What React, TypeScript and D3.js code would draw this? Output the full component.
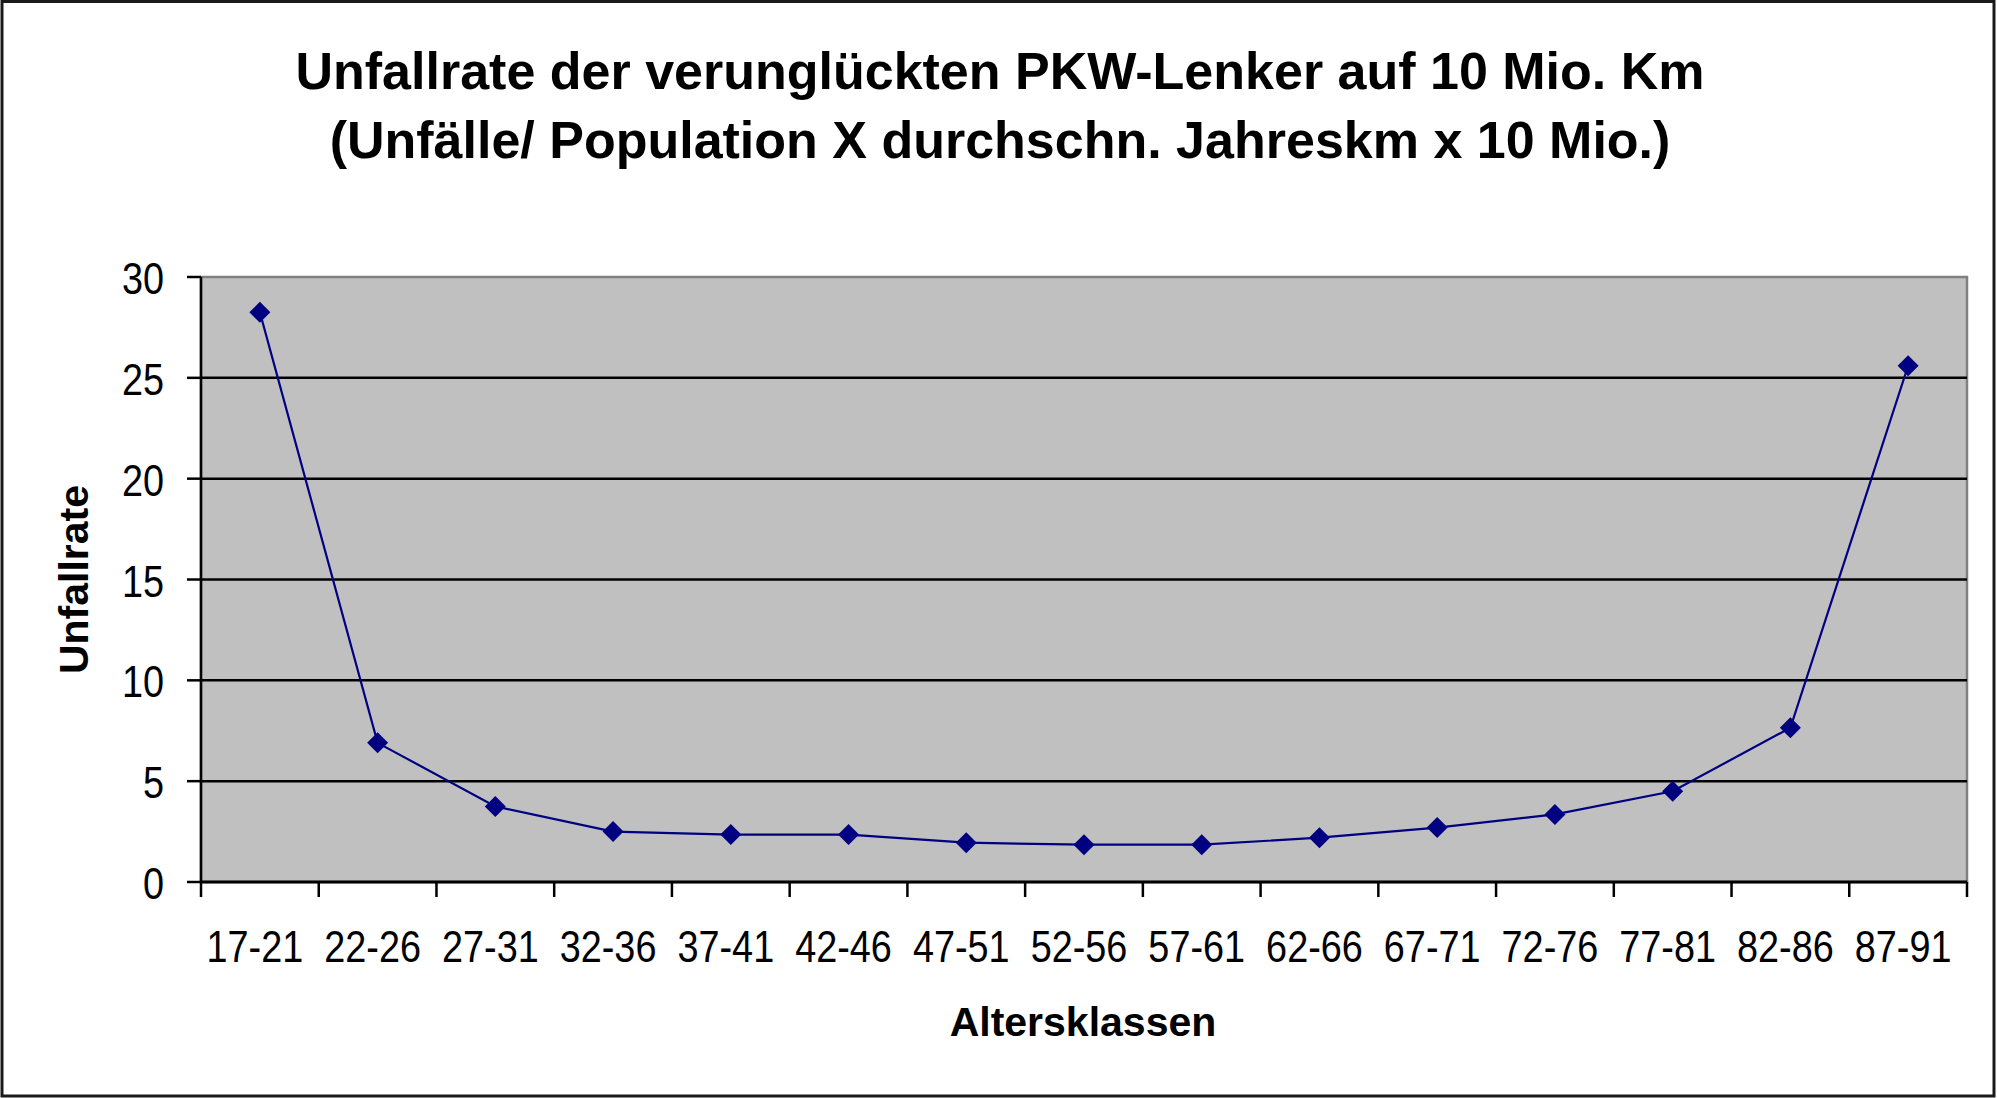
import React from "react";
import * as d3 from "d3";

const categories = ["17-21","22-26","27-31","32-36","37-41","42-46","47-51","52-56","57-61","62-66","67-71","72-76","77-81","82-86","87-91"];
const values = [28.25, 6.9, 3.75, 2.5, 2.35, 2.35, 1.95, 1.85, 1.85, 2.2, 2.7, 3.35, 4.5, 7.65, 25.6];
const yTicks = [0, 5, 10, 15, 20, 25, 30];
const titleLines = ["Unfallrate der verunglückten PKW-Lenker auf 10 Mio. Km", "(Unfälle/ Population X durchschn. Jahreskm x 10 Mio.)"];
const xTitle = "Altersklassen";
const yTitle = "Unfallrate";

const W = 1997, H = 1098;
const plot = { left: 201, right: 1967, top: 277, bottom: 882 };
const font = "'Liberation Sans', Arial, sans-serif";
const sx = 0.86;

export default function App() {
  const x = d3.scaleBand<string>().domain(categories).range([plot.left, plot.right]).padding(0);
  const y = d3.scaleLinear().domain([0, 30]).range([plot.bottom, plot.top]);
  const line = d3.line<number>()
    .x((_, i) => (x(categories[i]) as number) + x.bandwidth() / 2)
    .y((d) => y(d));
  const boundaries = categories.map((c) => x(c) as number).concat([plot.right]);
  const r = 10.5;
  return (
    <div style={{ position: "absolute", left: 0, top: 0 }}>
      <svg width={W} height={H} style={{ display: "block" }}>
        <rect x={0} y={0} width={W} height={H} fill="#ffffff" />
        <rect x={2} y={1.5} width={W - 5} height={H - 3.5} fill="none" stroke="#1a1a1a" strokeWidth={3} />
        {titleLines.map((t, i) => (
          <text key={i} x={1000} y={89 + i * 69} textAnchor="middle" fontFamily={font} fontWeight="bold" fontSize={52} fill="#000">{t}</text>
        ))}
        <rect x={plot.left} y={plot.top} width={plot.right - plot.left} height={plot.bottom - plot.top} fill="#c0c0c0" stroke="#808080" strokeWidth={2.5} />
        {yTicks.filter((t) => t > 0 && t < 30).map((t) => (
          <line key={t} x1={plot.left} x2={plot.right} y1={y(t)} y2={y(t)} stroke="#000" strokeWidth={2.5} />
        ))}
        {/* y axis */}
        <line x1={plot.left} x2={plot.left} y1={plot.top} y2={plot.bottom} stroke="#000" strokeWidth={2.5} />
        {yTicks.map((t) => (
          <g key={t}>
            <line x1={plot.left - 14} x2={plot.left} y1={y(t)} y2={y(t)} stroke="#000" strokeWidth={2.5} />
            <text transform={`translate(164,${y(t) + 17}) scale(${sx},1)`} textAnchor="end" fontFamily={font} fontSize={44} fill="#000">{t}</text>
          </g>
        ))}
        {/* x axis */}
        <line x1={plot.left} x2={plot.right} y1={plot.bottom} y2={plot.bottom} stroke="#000" strokeWidth={3} />
        {boundaries.map((b, i) => (
          <line key={i} x1={b} x2={b} y1={plot.bottom} y2={plot.bottom + 15} stroke="#000" strokeWidth={2.5} />
        ))}
        {categories.map((c) => (
          <text key={c} transform={`translate(${(x(c) as number) + x.bandwidth() / 2 - 5},962) scale(${sx},1)`} textAnchor="middle" fontFamily={font} fontSize={44} fill="#000">{c}</text>
        ))}
        <path d={line(values) || ""} fill="none" stroke="#000080" strokeWidth={2.2} />
        {values.map((v, i) => {
          const cx = (x(categories[i]) as number) + x.bandwidth() / 2;
          const cy = y(v);
          return <path key={i} d={`M${cx},${cy - r}L${cx + r},${cy}L${cx},${cy + r}L${cx - r},${cy}Z`} fill="#000080" />;
        })}
        <text x={1083} y={1036} textAnchor="middle" fontFamily={font} fontWeight="bold" fontSize={41} fill="#000">{xTitle}</text>
        <text transform={`translate(88,${(plot.top + plot.bottom) / 2}) rotate(-90)`} textAnchor="middle" fontFamily={font} fontWeight="bold" fontSize={41} fill="#000">{yTitle}</text>
      </svg>
    </div>
  );
}
